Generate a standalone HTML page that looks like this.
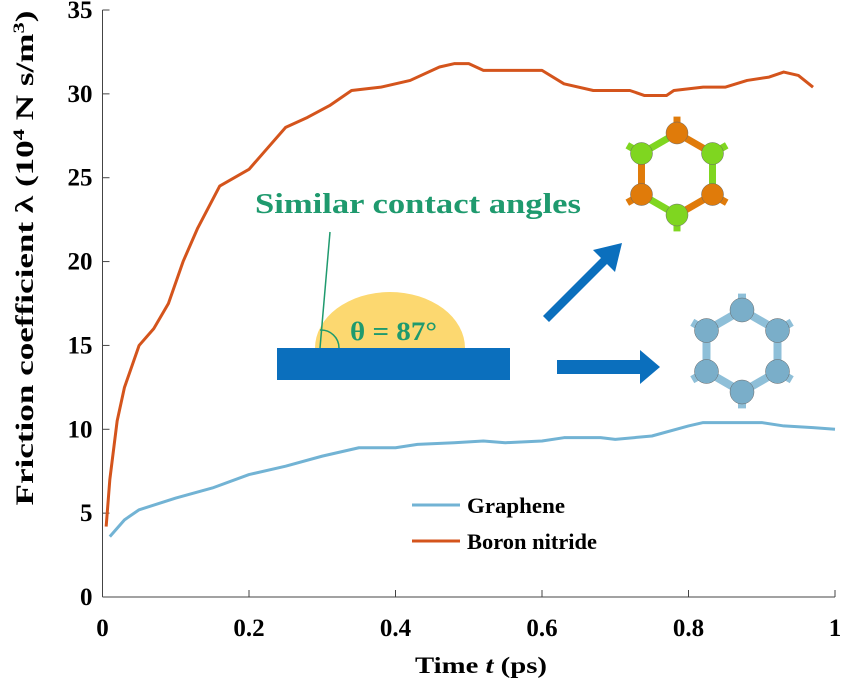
<!DOCTYPE html>
<html><head><meta charset="utf-8"><style>
body{margin:0;background:#fff}
svg{display:block;font-family:"Liberation Serif",serif;font-weight:bold}
</style></head><body>
<svg id="c" width="842" height="687" viewBox="0 0 842 687">
<g id="axes"></g>
<g id="series"></g>
<g>
<path d="M315,348 A75,56 0 0 1 465,348 Z" fill="#fcd870"/>
<rect x="277" y="348" width="233" height="32" fill="#0b6fbd"/>
<line x1="320" y1="348" x2="330" y2="232" stroke="#1f9a6e" stroke-width="1.5"/>
<path d="M320,330 A18,18 0 0 1 339,348" fill="none" stroke="#1f9a6e" stroke-width="1.5"/>
<text x="350" y="340" font-size="26" textLength="87" lengthAdjust="spacingAndGlyphs" fill="#1f9a6e">θ = 87°</text>
<text x="255" y="213" font-size="28" textLength="326" lengthAdjust="spacingAndGlyphs" fill="#1f9a6e">Similar contact angles</text>
<polygon points="543,316 601,258 593,250 622,243 615,272 607,264 549,322" fill="#0b6fbd"/>
<polygon points="557,360 640,360 640,350 660,367 640,384 640,374 557,374" fill="#0b6fbd"/>
</g>
<g id="mol"></g>
<g>
<line x1="412" y1="505" x2="460" y2="505" stroke="#72b3d4" stroke-width="3"/>
<text x="467" y="513" font-size="22" textLength="98" lengthAdjust="spacingAndGlyphs">Graphene</text>
<line x1="412" y1="541" x2="460" y2="541" stroke="#d4541c" stroke-width="3"/>
<text x="467" y="549" font-size="22" textLength="130" lengthAdjust="spacingAndGlyphs">Boron nitride</text>
</g>
<text x="481" y="673" font-size="23" text-anchor="middle" textLength="132" lengthAdjust="spacingAndGlyphs">Time <tspan font-style="italic">t</tspan> (ps)</text>
<text transform="translate(33,258) rotate(-90)" font-size="25" text-anchor="middle" textLength="495" lengthAdjust="spacingAndGlyphs">Friction coefficient λ (10<tspan font-size="16" dy="-9">4</tspan><tspan dy="9"> N s/m</tspan><tspan font-size="16" dy="-9">3</tspan><tspan dy="9">)</tspan></text>
</svg>
<script>
const xTicks=[0,0.2,0.4,0.6,0.8,1];
const xTickLabels=["0","0.2","0.4","0.6","0.8","1"];
const yTicks=[0,5,10,15,20,25,30,35];
const bnT=[0.005,0.01,0.02,0.03,0.05,0.07,0.09,0.11,0.13,0.16,0.2,0.22,0.25,0.28,0.31,0.34,0.38,0.42,0.46,0.48,0.5,0.52,0.6,0.63,0.67,0.72,0.74,0.77,0.78,0.82,0.85,0.88,0.91,0.93,0.95,0.97];
const bnV=[4.2,7,10.5,12.5,15,16,17.5,20,22,24.5,25.5,26.5,28,28.6,29.3,30.2,30.4,30.8,31.6,31.8,31.8,31.4,31.4,30.6,30.2,30.2,29.9,29.9,30.2,30.4,30.4,30.8,31.0,31.3,31.1,30.4];
const grT=[0.01,0.03,0.05,0.1,0.15,0.2,0.25,0.3,0.35,0.4,0.43,0.48,0.52,0.55,0.6,0.63,0.68,0.7,0.75,0.8,0.82,0.85,0.9,0.93,0.97,1.0];
const grV=[3.6,4.6,5.2,5.9,6.5,7.3,7.8,8.4,8.9,8.9,9.1,9.2,9.3,9.2,9.3,9.5,9.5,9.4,9.6,10.2,10.4,10.4,10.4,10.2,10.1,10.0];
const NS="http://www.w3.org/2000/svg";
const X0=102.5,X1=835,Y0=597,Y1=10;
const sx=t=>X0+(X1-X0)*t, sy=v=>Y0-(Y0-Y1)*v/35;
function mk(tag,attrs,parent){const e=document.createElementNS(NS,tag);for(const k in attrs)e.setAttribute(k,attrs[k]);parent.appendChild(e);return e;}
const ax=document.getElementById('axes');
let l=mk('line',{x1:X0,y1:Y0,x2:X1,y2:Y0,stroke:'#444','stroke-width':1},ax);


l=mk('line',{x1:X0,y1:Y0,x2:X0,y2:Y1,stroke:'#444','stroke-width':1},ax);


xTicks.forEach((t,i)=>{mk('line',{x1:sx(t),y1:Y0,x2:sx(t),y2:Y0-7,stroke:'#444'},ax);
 const tx=mk('text',{x:sx(t),y:Y0+39,'font-size':25,'text-anchor':'middle'},ax);tx.textContent=xTickLabels[i];
 
 });
yTicks.forEach(v=>{mk('line',{x1:X0,y1:sy(v),x2:X0+7,y2:sy(v),stroke:'#444'},ax);
 const tx=mk('text',{x:X0-10,y:sy(v)+8,'font-size':25,'text-anchor':'end'},ax);tx.textContent=v;
 
 });
const se=document.getElementById('series');
function line(T,V,c,name){const p=mk('polyline',{points:T.map((t,i)=>sx(t)+','+sy(V[i])).join(' '),fill:'none',stroke:c,'stroke-width':3,'stroke-linejoin':'round'},se);
 
 }
line(grT,grV,'#72b3d4','graphene-line');
line(bnT,bnV,'#d4541c','boron-nitride-line');
const mg=document.getElementById('mol');
function hex(cx,cy,r,cols,bond,bw,ar,name){const g=mk('g',{},mg);
 
 
 const pts=[];for(let k=0;k<6;k++){const a=-Math.PI/2+k*Math.PI/3;pts.push([cx+r*Math.cos(a),cy+r*Math.sin(a)]);}
 pts.forEach((p,k)=>{const d=[p[0]-cx,p[1]-cy];mk('line',{x1:p[0],y1:p[1],x2:p[0]+d[0]*0.4,y2:p[1]+d[1]*0.4,stroke:bond(k),'stroke-width':bw},g);
  const q=pts[(k+1)%6];mk('line',{x1:p[0],y1:p[1],x2:q[0],y2:q[1],stroke:bond(k),'stroke-width':bw},g);});
 pts.forEach((p,k)=>mk('circle',{cx:p[0],cy:p[1],r:ar,fill:cols[k%cols.length],stroke:'#666','stroke-width':0.5},g));}
hex(677,174,41,['#e07b0a','#7fd620'],k=>k%2?'#7fd620':'#e07b0a',7,11,'bn-molecule');
hex(742,351,41,['#7aaec9'],k=>'#8ebfd8',8,12,'graphene-molecule');
</script>
</body></html>
